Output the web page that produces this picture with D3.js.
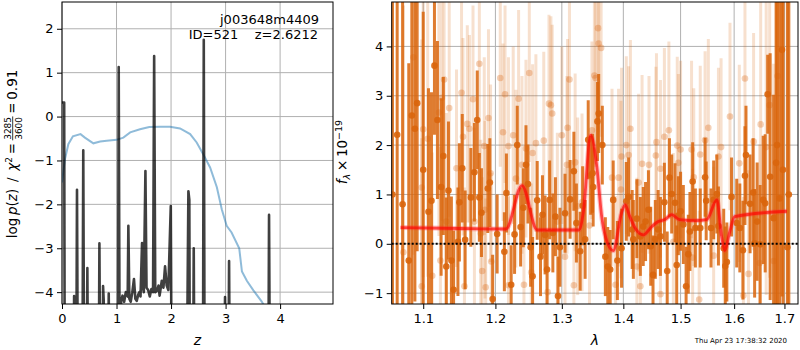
<!DOCTYPE html>
<html>
<head>
<meta charset="utf-8">
<script src="https://cdn.jsdelivr.net/npm/d3@7"></script>
<style>
  body { margin: 0; background: #fff; }
  text { font-family: "DejaVu Sans", sans-serif; }
</style>
</head>
<body>
<div id="chart"></div>
<script>
// ---- left panel: log p(z) ----
const zTicks = [0, 1, 2, 3, 4];
const pzTicks = [-4, -3, -2, -1, 0, 1, 2];

// [z, log p(z)] - values below the axis floor are clipped
const logPz = [
  [0.000, 0.32], [0.040, 0.32], [0.050, -6], [0.215, -6], [0.222, -4.09], [0.230, -6],
  [0.262, -6], [0.275, -1.67], [0.290, -6], [0.375, -6], [0.390, -0.77], [0.405, -6],
  [0.455, -6], [0.465, -3.45], [0.478, -6], [0.675, -6], [0.686, -2.89], [0.700, -6],
  [0.745, -6], [0.753, -3.86], [0.765, -4.2], [0.775, -6], [0.845, -6], [0.857, -4.03],
  [0.870, -6], [1.025, -6], [1.040, 1.13], [1.058, -6], [1.085, -4.2], [1.11, -4.08],
  [1.14, -4.22], [1.17, -4.0], [1.205, -4.1], [1.217, -2.49], [1.235, -4.15], [1.26, -4.22],
  [1.29, -4.0], [1.32, -3.70], [1.345, -4.15], [1.37, -4.2], [1.40, -4.05], [1.42, -4.0],
  [1.44, -4.1], [1.468, -2.88], [1.485, -3.9], [1.50, -4.0], [1.53, -1.24], [1.55, -3.9],
  [1.58, -3.95], [1.61, -4.1], [1.64, -3.93], [1.67, -4.0], [1.69, 1.38], [1.71, -4.0],
  [1.74, -3.97], [1.77, -3.85], [1.79, -4.08], [1.83, -3.74], [1.86, -3.9], [1.89, -3.41],
  [1.92, -3.85], [1.95, -3.95], [1.995, -2.04], [2.01, -6], [2.29, -6], [2.318, -1.70],
  [2.335, -1.9], [2.345, -6], [2.405, -6], [2.416, -3.0], [2.428, -6], [2.585, -6],
  [2.600, 1.75], [2.615, -6], [2.975, -6], [2.99, -4.11], [3.005, -6], [3.052, -6],
  [3.064, -3.29], [3.077, -6], [3.785, -6], [3.797, -2.24], [3.812, -6]
];

// [z, log p(z)] smooth prior curve
const priorPz = [
  [0, -1.5], [0.03, -1.2], [0.055, -0.97], [0.116, -0.63], [0.2, -0.45], [0.34, -0.40],
  [0.42, -0.48], [0.575, -0.61], [0.7, -0.57], [0.82, -0.55], [1.0, -0.53], [1.125, -0.48],
  [1.25, -0.36], [1.43, -0.29], [1.6, -0.24], [1.8, -0.23], [1.98, -0.23], [2.165, -0.27],
  [2.35, -0.40], [2.47, -0.59], [2.59, -0.86], [2.716, -1.16], [2.84, -1.61], [2.93, -2.11],
  [3.02, -2.49], [3.11, -2.64], [3.25, -3.0], [3.30, -3.53], [3.39, -3.74], [3.51, -3.96],
  [3.66, -4.21], [3.75, -4.4]
];

// ---- right panel: spectrum ----
const waveTicks = [1.1, 1.2, 1.3, 1.4, 1.5, 1.6, 1.7];
const fluxTicks = [-1, 0, 1, 2, 3, 4];

// [lambda, flux, err]
const darkPoints = [
  [1.060, 1.0, 7], [1.066, 2.21, 6], [1.073, 0.8, 7], [1.081, -0.34, 4], [1.085, 2.60, 4],
  [1.089, 2.33, 3.5], [1.092, 2.85, 3], [1.100, 1.5, 3.2], [1.107, 0.65, 2.5], [1.111, 0.87, 2.2],
  [1.115, 3.61, 1.4], [1.119, 2.51, 1.6], [1.124, 1.15, 1.8], [1.127, 1.78, 1.6], [1.131, -0.46, 1.4],
  [1.134, 1.08, 1.4], [1.138, -0.34, 1.3], [1.141, -0.93, 1.2], [1.147, 0.04, 1.1], [1.149, 0.84, 1.2],
  [1.153, 1.53, 1.1], [1.157, 0.08, 1.0], [1.165, 0.94, 1.0], [1.170, 1.45, 1.0], [1.174, 2.51, 1.0],
  [1.177, 0.94, 0.9], [1.180, 0.63, 0.9], [1.189, 1.12, 0.9], [1.192, 1.24, 0.9], [1.196, -1.12, 0.9],
  [1.2025, 0.2, 0.8], [1.213, -0.16, 0.8], [1.216, 1.03, 0.8], [1.223, -0.83, 0.8], [1.228, 0.19, 0.8],
  [1.232, 2.00, 0.8], [1.237, 0.34, 0.8], [1.241, 0.73, 0.8], [1.245, 1.6, 0.8], [1.248, 1.21, 0.8],
  [1.252, -0.07, 0.8], [1.255, -0.66, 0.8], [1.262, 0.88, 0.8], [1.267, -0.26, 0.8], [1.270, 0.59, 0.8],
  [1.274, 0.18, 0.8], [1.277, -0.52, 0.8], [1.281, 0.89, 0.8], [1.286, 0.22, 0.8], [1.290, 0.55, 0.8],
  [1.294, -1.06, 0.8], [1.297, -0.07, 0.8], [1.305, 0.62, 0.8], [1.313, 0.9, 0.8], [1.319, 1.47, 0.8],
  [1.323, 0.42, 0.8], [1.329, -0.15, 0.8], [1.333, 0.77, 0.8], [1.337, 0.09, 0.8], [1.342, 2.11, 0.8],
  [1.346, 1.39, 0.8], [1.349, 1.43, 0.8], [1.350, 1.15, 0.8], [1.357, 2.48, 0.8], [1.359, 2.64, 0.8],
  [1.365, 2.0, 0.8], [1.370, -0.26, 0.8], [1.374, -0.46, 0.8], [1.378, -0.52, 0.8], [1.383, 0.89, 0.8],
  [1.390, -0.34, 0.8], [1.397, -0.09, 0.8], [1.405, 0.86, 0.8], [1.409, 0.95, 0.8], [1.415, 0.29, 0.8],
  [1.417, 0.09, 0.8], [1.423, 0.51, 0.8], [1.429, 0.15, 0.8], [1.434, 0.35, 0.8], [1.438, 0.45, 0.8],
  [1.443, 0.69, 0.8], [1.447, -0.05, 0.8], [1.451, -0.63, 0.8], [1.455, 0.09, 0.8], [1.460, 0.29, 0.8],
  [1.464, 0.15, 0.8], [1.471, 0.84, 0.8], [1.476, -0.55, 0.8], [1.480, 1.34, 0.8], [1.484, 1.01, 0.8],
  [1.490, 0.83, 0.8], [1.493, -0.43, 0.8], [1.496, 0.57, 0.8], [1.500, 0.66, 0.8], [1.505, 0.39, 0.8],
  [1.510, -0.86, 0.8], [1.514, -0.21, 0.8], [1.517, 0.25, 0.8], [1.522, 1.26, 0.8], [1.527, 0.32, 0.8],
  [1.536, 0.32, 0.8], [1.545, 1.35, 0.8], [1.547, 0.87, 0.8], [1.556, 0.32, 0.8], [1.561, 0.89, 0.8],
  [1.567, 1.01, 0.8], [1.570, 0.36, 0.8], [1.580, -0.09, 0.8], [1.583, -0.45, 0.8], [1.586, -0.37, 0.8],
  [1.595, 0.95, 0.8], [1.605, 0.42, 0.9], [1.611, 0.32, 0.9], [1.617, -0.13, 1.0], [1.621, 1.38, 1.0],
  [1.623, 1.8, 1.0], [1.631, 0.81, 1.0], [1.637, 1.04, 1.1], [1.640, 0.01, 1.1], [1.645, 0.45, 1.2],
  [1.651, -0.01, 1.2], [1.657, 0.89, 1.3], [1.661, 0.82, 1.4], [1.666, 3.03, 0.8], [1.671, 1.36, 2.5],
  [1.678, 0.52, 2.5], [1.683, 1.64, 3.5], [1.685, 2.0, 6], [1.690, 0.92, 4], [1.695, 3.93, 5],
  [1.697, 1.5, 6], [1.706, -0.07, 6], [1.709, 1.0, 7]
];

const lightPoints = [
  [1.074, -0.17, 5], [1.087, 3.78, 4], [1.098, 1.14, 3], [1.098, -0.86, 3], [1.100, 2.32, 3],
  [1.106, 2.13, 2.8], [1.112, -0.65, 2.5], [1.121, 2.66, 2.5], [1.123, -0.34, 2.3], [1.125, 2.96, 2.5],
  [1.128, 3.33, 2.3], [1.131, 0.45, 2.2], [1.135, 2.75, 2.2], [1.145, 1.53, 2.0], [1.152, 3.06, 2.0],
  [1.154, 2.17, 2.0], [1.156, -0.86, 2.0], [1.160, 2.43, 2.0], [1.163, 2.33, 1.9], [1.168, 2.93, 1.9],
  [1.170, 0.45, 1.9], [1.177, 3.65, 1.9], [1.179, 0.21, 1.9], [1.181, -0.55, 1.9], [1.184, 1.98, 1.8],
  [1.185, 0.69, 1.8], [1.186, -0.88, 1.8], [1.190, 2.55, 1.8], [1.193, 1.43, 1.8], [1.194, -0.36, 1.8],
  [1.207, 3.36, 1.8], [1.211, 2.26, 1.8], [1.214, 3.03, 1.8], [1.219, 1.98, 1.8], [1.219, -0.84, 1.8],
  [1.226, 2.2, 1.8], [1.230, 1.32, 1.8], [1.234, 2.94, 1.8], [1.239, 1.6, 1.8], [1.242, -0.83, 1.8],
  [1.245, 1.93, 1.8], [1.250, 3.46, 1.8], [1.253, -0.58, 1.8], [1.255, 1.84, 1.8], [1.260, 2.04, 1.8],
  [1.272, 2.09, 1.8], [1.278, -0.98, 1.8], [1.280, 2.84, 1.8], [1.283, 2.81, 1.8], [1.285, 2.64, 1.8],
  [1.293, 0.45, 1.8], [1.300, 2.2, 1.8], [1.305, -0.26, 1.8], [1.308, 1.6, 1.8], [1.309, 2.35, 1.8],
  [1.312, 3.33, 1.8], [1.319, -0.84, 1.8], [1.321, 1.65, 1.8], [1.325, 0.76, 1.8], [1.332, 0.84, 1.8],
  [1.344, 0.37, 1.8], [1.348, 2.3, 1.8], [1.352, 3.41, 1.8], [1.354, 3.36, 1.8], [1.358, 4.37, 1.8],
  [1.359, 4.06, 1.8], [1.363, 3.97, 1.8], [1.381, 1.34, 1.8], [1.387, -0.83, 1.8], [1.392, 1.34, 1.8],
  [1.396, 1.1, 1.8], [1.397, 1.77, 1.8], [1.405, 2.0, 1.8], [1.409, 1.8, 1.8], [1.412, 2.33, 1.8],
  [1.423, -0.46, 1.8], [1.426, 1.24, 1.8], [1.429, -0.86, 1.8], [1.432, 1.62, 1.8], [1.444, 1.6, 1.8],
  [1.456, 1.79, 1.8], [1.457, 2.06, 1.8], [1.464, 1.52, 1.8], [1.464, -1.02, 1.8], [1.471, 2.17, 1.8],
  [1.479, 2.3, 1.8], [1.487, 0.04, 1.8], [1.494, 1.99, 1.8], [1.496, 1.64, 1.8], [1.500, 1.91, 1.8],
  [1.520, 1.91, 1.8], [1.522, -0.28, 1.8], [1.524, 1.35, 1.8], [1.534, -1.13, 1.8], [1.536, 1.81, 1.8],
  [1.545, 2.1, 1.8], [1.551, 2.35, 1.8], [1.561, -0.24, 1.8], [1.570, 1.77, 1.8], [1.575, 1.96, 1.8],
  [1.592, 2.58, 1.9], [1.610, 1.63, 2.0], [1.618, -1.05, 2.0], [1.621, 3.35, 2.0], [1.628, -0.61, 2.1],
  [1.638, 2.07, 2.2], [1.650, -0.39, 2.4], [1.652, 2.42, 2.5], [1.663, 1.96, 3], [1.670, 2.81, 3.5],
  [1.678, -0.35, 4], [1.686, 3.4, 5]
];

// [lambda, flux] best-fit template
const modelFlux = [
  [1.0704, 0.33], [1.15, 0.31], [1.2153, 0.30], [1.239, 1.18], [1.262, 0.28], [1.327, 0.28],
  [1.334, 0.63], [1.346, 2.2], [1.356, 1.56], [1.364, 0.55], [1.370, 0.15], [1.383, -0.14],
  [1.397, 0.63], [1.403, 0.79], [1.411, 0.55], [1.420, 0.32], [1.434, 0.18], [1.449, 0.35],
  [1.460, 0.45], [1.472, 0.49], [1.484, 0.59], [1.498, 0.49], [1.526, 0.47], [1.548, 0.49],
  [1.567, 0.89], [1.576, 0.15], [1.582, -0.14], [1.591, 0.22], [1.601, 0.55], [1.705, 0.66]
];

const W = 800, H = 350;
const ORANGE = "#d9650c";

const svg = d3.select("#chart").append("svg")
  .attr("width", W).attr("height", H)
  .style("background", "#fff");

const L = { left: 62, right: 333, top: 2, bottom: 304 };
const R = { left: 391.7, right: 798, top: 2, bottom: 304 };

const xZ = d3.scaleLinear().domain([0, 4.97]).range([L.left, L.right]);
const yP = d3.scaleLinear().domain([-4.27, 2.61]).range([L.bottom, L.top]);
const xW = d3.scaleLog().domain([1.059, 1.728]).range([R.left, R.right]);
const yF = d3.scaleLinear().domain([-1.22, 4.9]).range([R.bottom, R.top]);

const defs = svg.append("defs");
[["clipL", L], ["clipR", R]].forEach(([id, b]) => {
  defs.append("clipPath").attr("id", id).append("rect")
    .attr("x", b.left).attr("y", b.top)
    .attr("width", b.right - b.left).attr("height", b.bottom - b.top);
});

function grid(b, xs, xv, ys, yv) {
  const g = svg.append("g").attr("stroke", "#b0b0b0").attr("stroke-width", 1);
  xv.forEach(v => g.append("line").attr("x1", xs(v)).attr("x2", xs(v)).attr("y1", b.top).attr("y2", b.bottom));
  yv.forEach(v => g.append("line").attr("y1", ys(v)).attr("y2", ys(v)).attr("x1", b.left).attr("x2", b.right));
}

function axes(b, xs, xv, xf, ys, yv, yf) {
  const gx = svg.append("g").attr("transform", `translate(0,${b.bottom})`)
    .call(d3.axisBottom(xs).tickValues(xv).tickFormat(xf).tickSize(5).tickPadding(5));
  const gy = svg.append("g").attr("transform", `translate(${b.left},0)`)
    .call(d3.axisLeft(ys).tickValues(yv).tickFormat(yf).tickSize(5).tickPadding(3.5));
  [gx, gy].forEach(g => {
    g.select(".domain").remove();
    g.selectAll("text").attr("font-size", 13).attr("fill", "#000")
      .style("font-family", '"DejaVu Sans", sans-serif');
    g.selectAll(".tick line").attr("stroke", "#000").attr("stroke-width", 1);
  });
  svg.append("rect").attr("x", b.left).attr("y", b.top)
    .attr("width", b.right - b.left).attr("height", b.bottom - b.top)
    .attr("fill", "none").attr("stroke", "#000").attr("stroke-width", 1);
}

// ---- left panel ----
grid(L, xZ, zTicks, yP, pzTicks);
const pl = svg.append("g").attr("clip-path", "url(#clipL)");
pl.append("path").datum(priorPz)
  .attr("d", d3.line().x(d => xZ(d[0])).y(d => yP(d[1])))
  .attr("fill", "none").attr("stroke", "#1f77b4").attr("stroke-opacity", 0.5).attr("stroke-width", 2);
pl.append("path").datum(logPz)
  .attr("d", d3.line().x(d => xZ(d[0])).y(d => yP(d[1])))
  .attr("fill", "none").attr("stroke", "#000").attr("stroke-opacity", 0.75)
  .attr("stroke-width", 2.6).attr("stroke-linejoin", "round");
axes(L, xZ, zTicks, d3.format("d"), yP, pzTicks, d3.format("d"));

svg.append("text").attr("x", 319).attr("y", 24).attr("text-anchor", "end")
  .attr("font-size", 13).text("j003648m4409");
svg.append("text").attr("x", 318).attr("y", 39).attr("text-anchor", "end")
  .attr("font-size", 13).style("white-space", "pre").text("ID=521    z=2.6212");

svg.append("text").attr("x", (L.left + L.right) / 2).attr("y", 345)
  .attr("text-anchor", "middle").attr("font-size", 14).attr("font-style", "italic").text("z");

// left y label with fraction
{
  const outer = svg.append("g").attr("transform", "translate(17,0) rotate(-90)");
  const g = outer.append("g");
  const fs = 13.5, small = 9;
  const t1 = g.append("text").attr("font-size", fs);
  t1.append("tspan").text("log\u2009");
  t1.append("tspan").attr("font-style", "italic").text("p");
  t1.append("tspan").text("(");
  t1.append("tspan").attr("font-style", "italic").text("z");
  t1.append("tspan").text(")\u2002/\u2002");
  t1.append("tspan").attr("font-style", "italic").text("χ");
  t1.append("tspan").attr("font-size", small).attr("dy", -5.5).text("2");
  t1.append("tspan").attr("dy", 5.5).text("\u2009=\u2009");
  const w1 = t1.node().getComputedTextLength();
  const num = g.append("text").attr("font-size", small).attr("text-anchor", "middle").text("3285");
  const den = g.append("text").attr("font-size", small).attr("text-anchor", "middle").text("3600");
  const fw = Math.max(num.node().getComputedTextLength(), den.node().getComputedTextLength()) + 1;
  num.attr("x", w1 + fw / 2).attr("y", -6.5);
  den.attr("x", w1 + fw / 2).attr("y", 4.5);
  g.append("line").attr("x1", w1).attr("x2", w1 + fw).attr("y1", -4.3).attr("y2", -4.3)
    .attr("stroke", "#000").attr("stroke-width", 0.8);
  const t3 = g.append("text").attr("font-size", fs).attr("x", w1 + fw).text("\u2009=\u20090.91");
  const total = w1 + fw + t3.node().getComputedTextLength();
  g.attr("transform", `translate(${-(154 + total / 2)},0)`);
}

// ---- right panel ----
grid(R, xW, waveTicks, yF, fluxTicks);
const pr = svg.append("g").attr("clip-path", "url(#clipR)");

function errorSeries(data, barOp, dotOp) {
  const g = pr.append("g");
  g.selectAll("line").data(data).join("line")
    .attr("x1", d => xW(d[0])).attr("x2", d => xW(d[0]))
    .attr("y1", d => yF(d[1] - d[2])).attr("y2", d => yF(d[1] + d[2]))
    .attr("stroke", ORANGE).attr("stroke-opacity", barOp).attr("stroke-width", 3);
  g.selectAll("circle").data(data).join("circle")
    .attr("cx", d => xW(d[0])).attr("cy", d => yF(d[1])).attr("r", 3.3)
    .attr("fill", ORANGE).attr("fill-opacity", dotOp);
}
errorSeries(lightPoints, 0.2, 0.3);
errorSeries(darkPoints, 0.85, 0.9);

pr.append("line").attr("x1", R.left).attr("x2", R.right)
  .attr("y1", yF(0)).attr("y2", yF(0))
  .attr("stroke", "#000").attr("stroke-width", 2).attr("stroke-dasharray", "2,2");

const modelLine = d3.line().x(d => xW(d[0])).y(d => yF(d[1])).curve(d3.curveMonotoneX);
pr.append("path").datum(modelFlux).attr("d", modelLine)
  .attr("fill", "none").attr("stroke", "#ff3030").attr("stroke-opacity", 0.3)
  .attr("stroke-width", 5).attr("stroke-linejoin", "round");
pr.append("path").datum(modelFlux).attr("d", modelLine)
  .attr("fill", "none").attr("stroke", "red").attr("stroke-opacity", 0.65)
  .attr("stroke-width", 2.8).attr("stroke-linejoin", "round");

axes(R, xW, waveTicks, d3.format(".1f"), yF, fluxTicks, d3.format("d"));

svg.append("text").attr("x", (R.left + R.right) / 2).attr("y", 345)
  .attr("text-anchor", "middle").attr("font-size", 14).attr("font-style", "italic").text("λ");

{
  const outer = svg.append("g").attr("transform", "translate(347,0) rotate(-90)");
  const g = outer.append("g");
  const t = g.append("text").attr("font-size", 13.5);
  t.append("tspan").attr("font-style", "italic").text("f");
  t.append("tspan").attr("font-size", 9.5).attr("font-style", "italic").attr("dy", 3).text("λ");
  t.append("tspan").attr("dy", -3).text("\u2009×\u200910");
  t.append("tspan").attr("font-size", 9.5).attr("dy", -5.5).text("−19");
  const tw = t.node().getComputedTextLength();
  g.attr("transform", `translate(${-(152 + tw / 2)},0)`);
}

svg.append("text").attr("x", 787).attr("y", 343).attr("text-anchor", "end")
  .attr("font-size", 7).text("Thu Apr 23 17:38:32 2020");
</script>
</body>
</html>
